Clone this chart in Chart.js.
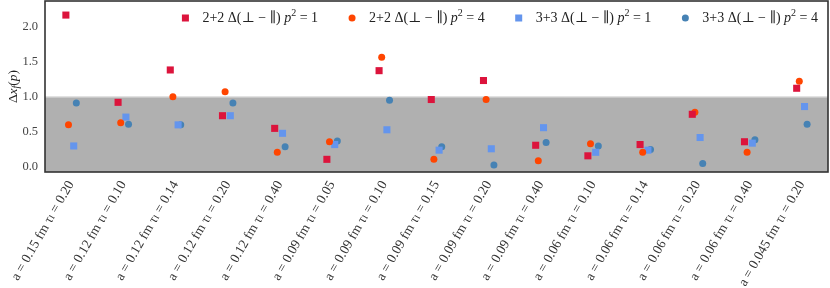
<!DOCTYPE html>
<html>
<head>
<meta charset="utf-8">
<script src="https://cdn.jsdelivr.net/npm/chart.js@4.4.1/dist/chart.umd.min.js"></script>
<style>
  html, body { margin: 0; padding: 0; background: #fff; }
  #c { display: block; }
</style>
</head>
<body>
<canvas id="c" width="830" height="288"></canvas>
<script>
// ensembles on the x axis
var spacings = ["0.15", "0.12", "0.12", "0.12", "0.12", "0.09", "0.09", "0.09", "0.09", "0.09", "0.06", "0.06", "0.06", "0.06", "0.045"];
var taus = ["0.20", "0.10", "0.14", "0.20", "0.40", "0.05", "0.10", "0.15", "0.20", "0.40", "0.10", "0.14", "0.20", "0.40", "0.20"];

// Δx_f(p) values
var d22p1 = [2.16, 0.92, 1.38, 0.73, 0.55, 0.11, 1.37, 0.96, 1.23, 0.31, 0.16, 0.32, 0.75, 0.36, 1.12];
var d22p4 = [0.60, 0.63, 1.00, 1.07, 0.21, 0.36, 1.56, 0.11, 0.96, 0.09, 0.33, 0.21, 0.78, 0.21, 1.22];
var d33p1 = [0.30, 0.71, 0.60, 0.73, 0.48, 0.32, 0.53, 0.24, 0.26, 0.56, 0.21, 0.24, 0.42, 0.34, 0.86];
var d33p4 = [0.91, 0.61, 0.60, 0.91, 0.29, 0.37, 0.95, 0.29, 0.03, 0.35, 0.30, 0.25, 0.05, 0.39, 0.61];

var yTicks = [0.0, 0.5, 1.0, 1.5, 2.0];
var bandTop = 1.0;

var labels = spacings.map(function (a, i) {
    return "a = " + a + " fm τₗ = " + taus[i];
});

var serif = "'Liberation Serif', 'DejaVu Serif', serif";

function series(vals, shift) {
    return vals.map(function (v, i) { return { x: i + shift, y: v }; });
}

var sets = [
    { label: "2+2", p: "1", data: series(d22p1, -0.1), color: "#dc143c", style: "rect", r: 5 },
    { label: "2+2", p: "4", data: series(d22p4, -0.05), color: "#ff4500", style: "circle", r: 3.5 },
    { label: "3+3", p: "1", data: series(d33p1, 0.05), color: "#6495ed", style: "rect", r: 5 },
    { label: "3+3", p: "4", data: series(d33p4, 0.1), color: "#4682b4", style: "circle", r: 3.5 }
];

var datasets = sets.map(function (s) {
    return {
        label: s.label + " p2=" + s.p,
        data: s.data,
        backgroundColor: s.color,
        borderColor: s.color,
        borderWidth: 0,
        pointStyle: s.style,
        pointRadius: s.r,
        pointHoverRadius: s.r,
        showLine: false
    };
});

// grey band below 1.0
var bandPlugin = {
    id: "band",
    beforeDatasetsDraw: function (chart) {
        var ctx = chart.ctx, ca = chart.chartArea;
        var y1 = chart.scales.y.getPixelForValue(bandTop);
        ctx.save();
        ctx.fillStyle = "#b0b0b0";
        ctx.fillRect(ca.left, y1, ca.right - ca.left, ca.bottom - y1);
        ctx.strokeStyle = "#d4d4d4";
        ctx.lineWidth = 1;
        ctx.beginPath();
        ctx.moveTo(ca.left, y1 + 0.5);
        ctx.lineTo(ca.right, y1 + 0.5);
        ctx.stroke();
        ctx.restore();
    }
};

var lfs = 14;

function legendParts(s) {
    return [
        [s.label + " Δ(⊥ − ∥) ", lfs + "px " + serif, 0],
        ["p", "italic " + lfs + "px " + serif, 0],
        ["2", "10px " + serif, -5],
        [" = " + s.p, lfs + "px " + serif, 0]
    ];
}

function drawParts(ctx, parts, x, y) {
    parts.forEach(function (p) {
        ctx.font = p[1];
        ctx.fillText(p[0], x, y + p[2]);
        x += ctx.measureText(p[0]).width;
    });
}

function partsWidth(ctx, parts) {
    var w = 0;
    parts.forEach(function (p) { ctx.font = p[1]; w += ctx.measureText(p[0]).width; });
    return w;
}

// legend inside the plot, frame, y title
var decorPlugin = {
    id: "decor",
    afterDraw: function (chart) {
        var ctx = chart.ctx, ca = chart.chartArea;
        ctx.save();

        // legend
        var gap = 34, lead = 17;
        var widths = sets.map(function (s) { return partsWidth(ctx, legendParts(s)); });
        var total = widths.reduce(function (a, b) { return a + b; }, 0) + sets.length * lead + (sets.length - 1) * gap;
        var x = ca.right - 10 - total;
        var y = ca.top + 17;
        ctx.textBaseline = "middle";
        sets.forEach(function (s, i) {
            ctx.fillStyle = s.color;
            if (s.style === "rect") {
                ctx.fillRect(x - 3.5, y - 3.5, 7, 7);
            } else {
                ctx.beginPath();
                ctx.arc(x, y, 3.5, 0, Math.PI * 2);
                ctx.fill();
            }
            ctx.fillStyle = "#222";
            drawParts(ctx, legendParts(s), x + lead, y);
            x += lead + widths[i] + gap;
        });

        // frame
        ctx.strokeStyle = "#333";
        ctx.lineWidth = 1.6;
        ctx.strokeRect(ca.left, ca.top, ca.right - ca.left, ca.bottom - ca.top);

        // y axis title: Δx_f(p)
        ctx.translate(13, (ca.top + ca.bottom) / 2);
        ctx.rotate(-Math.PI / 2);
        ctx.fillStyle = "#222";
        ctx.textBaseline = "middle";
        var parts = [
            ["Δ", "13.5px " + serif, 0],
            ["x", "italic 13.5px " + serif, 0],
            ["f", "italic 10px " + serif, 3],
            ["(", "13.5px " + serif, 0],
            ["p", "italic 13.5px " + serif, 0],
            [")", "13.5px " + serif, 0]
        ];
        drawParts(ctx, parts, -partsWidth(ctx, parts) / 2, 0);
        ctx.restore();
    }
};

new Chart(document.getElementById("c"), {
    type: "scatter",
    data: { datasets: datasets },
    options: {
        responsive: false,
        animation: false,
        devicePixelRatio: 1,
        layout: { autoPadding: false, padding: { top: 1, right: 2, left: 0, bottom: 0 } },
        plugins: {
            legend: { display: false },
            tooltip: { enabled: false }
        },
        scales: {
            x: {
                type: "linear",
                min: -0.5,
                max: 14.5,
                grid: { display: false, drawTicks: false },
                border: { display: false },
                afterBuildTicks: function (scale) {
                    scale.ticks = labels.map(function (l, i) { return { value: i }; });
                },
                afterFit: function (scale) {
                    scale.height = 116;
                    scale.paddingLeft = 0;
                    scale.paddingRight = 0;
                },
                ticks: {
                    autoSkip: false,
                    minRotation: 60,
                    maxRotation: 60,
                    padding: 6,
                    color: "#333",
                    font: { family: serif, size: 13.5 },
                    callback: function (v) { return labels[v]; }
                }
            },
            y: {
                min: -0.07,
                max: 2.36,
                grid: { display: false, drawTicks: false },
                border: { display: false },
                afterBuildTicks: function (scale) {
                    scale.ticks = yTicks.map(function (v) { return { value: v }; });
                },
                afterFit: function (scale) {
                    scale.width = 45;
                    scale.paddingTop = 0;
                    scale.paddingBottom = 0;
                },
                ticks: {
                    padding: 7,
                    color: "#444",
                    font: { family: serif, size: 12.5 },
                    callback: function (v) { return v.toFixed(1); }
                }
            }
        }
    },
    plugins: [bandPlugin, decorPlugin]
});
</script>
</body>
</html>
